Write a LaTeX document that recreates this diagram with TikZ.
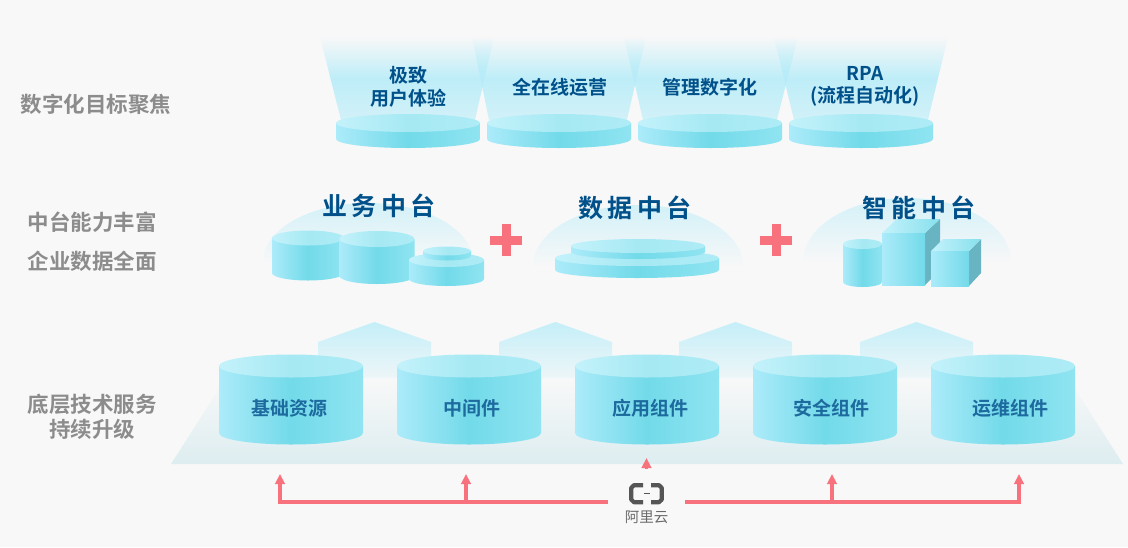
\documentclass[tikz,border=0pt]{standalone}
\usepackage{fontspec}
\setmainfont{Noto Sans CJK SC}[BoldFont={Noto Sans CJK SC Bold}]
\usetikzlibrary{fadings,arrows.meta}
\definecolor{bgc}{HTML}{F8F8F8}
\definecolor{beamc}{HTML}{B4ECF9}
\definecolor{bodyl}{HTML}{ACEBFA}
\definecolor{bodym}{HTML}{72DAE9}
\definecolor{bodyr}{HTML}{90E4F1}
\definecolor{topl}{HTML}{C4F2FB}
\definecolor{topm}{HTML}{A6E9F3}
\definecolor{topr}{HTML}{AEECF6}
\definecolor{navy}{HTML}{00508A}
\definecolor{labelc}{HTML}{1C6A9E}
\definecolor{greyt}{HTML}{8C8C8C}
\definecolor{redc}{HTML}{F8727E}
\definecolor{sidec}{HTML}{68B4C2}
\definecolor{logoc}{HTML}{555555}
\definecolor{planec}{HTML}{DDEDF0}
\tikzfading[name=beamfade,top color=transparent!100,bottom color=transparent!45,middle color=transparent!15]
\tikzfading[name=domefade,top color=transparent!45,bottom color=transparent!100]
\tikzfading[name=housefade,top color=transparent!25,bottom color=transparent!85]
\tikzset{
  x=1pt,y=-1pt,
  cylbody/.style={left color=bodyl,right color=bodyr,middle color=bodym,draw=none},
  cyltop/.style={left color=topl,right color=topr,middle color=topm,draw=none},
  beam/.style={fill=beamc,path fading=beamfade,draw=none},
  dome/.style={fill=beamc,path fading=domefade,draw=none},
  house/.style={fill=beamc,path fading=housefade,draw=none},
  toptext/.style={font=\fontsize{19}{21}\selectfont\bfseries,text=navy,inner sep=0pt},
  cyltext/.style={font=\fontsize{19}{21}\selectfont\bfseries,text=labelc,inner sep=0pt},
  sidetext/.style={font=\fontsize{21.5}{24}\selectfont\bfseries,text=greyt,inner sep=0pt},
  titletext/.style={font=\fontsize{25}{27}\selectfont\bfseries\addfontfeature{LetterSpace=17},text=navy,inner sep=0pt},
  flow/.style={draw=redc,line width=3.2pt},
  flowup/.style={draw=redc,line width=3.2pt,-{Triangle[length=10pt,width=9.5pt]}},
  boxfront/.style={left color=bodyl,right color=bodym,draw=none},
  boxtop/.style={left color=topl,right color=bodym!60!topm,draw=none},
}
% centre x, top y, bottom y, rx, ry
\newcommand{\cylinder}[5]{%
  \shade[cylbody] ({#1-#4},#2) -- ({#1-#4},#3) arc[start angle=180,end angle=360,x radius=#4,y radius=-#5] -- ({#1+#4},#2) -- cycle;
  \shade[cyltop] (#1,#2) ellipse[x radius=#4,y radius=#5];
}
\begin{document}
\begin{tikzpicture}
\useasboundingbox (0,0) rectangle (1128,547);
\fill[bgc] (0,0) rectangle (1128,547);

% beams
\fill[beam] (320,37) -- (494,37) -- (475,120) -- (341,120) -- cycle;
\fill[beam] (472,37) -- (646,37) -- (627,120) -- (489,120) -- cycle;
\fill[beam] (624,37) -- (798,37) -- (777,120) -- (643,120) -- cycle;
\fill[beam] (774,37) -- (948,37) -- (928,120) -- (794,120) -- cycle;

% top discs
\cylinder{408}{123}{139}{72}{9}
\cylinder{559}{123}{139}{72}{9}
\cylinder{710}{123}{139}{72}{9}
\cylinder{861}{123}{139}{72}{9}

% domes
\fill[dome] (263,262) arc[start angle=180,end angle=360,x radius=105,y radius=59] -- cycle;
\fill[dome] (533,266) arc[start angle=180,end angle=360,x radius=105,y radius=61] -- cycle;
\fill[dome] (803,262) arc[start angle=180,end angle=360,x radius=104,y radius=64] -- cycle;

% business cylinders
\cylinder{308}{238}{273}{36}{7.5}
\cylinder{377}{239}{276}{37.5}{8}
\cylinder{446.5}{260}{279}{37.5}{7}
\cylinder{447}{251}{256}{24}{4.5}

% data discs
\cylinder{637}{258}{270}{82}{8}
\cylinder{638}{246}{252}{67}{7}

% intelligent shapes
\cylinder{862.5}{244}{282}{19.5}{5}
\fill[sidec] (925,233) -- (940,219) -- (940,270) -- (925,285) -- cycle;
\shade[boxtop] (882,233) -- (925,233) -- (940,219) -- (897,219) -- cycle;
\shade[boxfront] (882,233) rectangle (925,285);
\fill[sidec] (969,251) -- (981,239) -- (981,273) -- (969,286) -- cycle;
\shade[boxtop] (931,251) -- (969,251) -- (981,239) -- (943,239) -- cycle;
\shade[boxfront] (931,251) rectangle (969,286);

% base plane
\shade[top color=bgc,bottom color=planec,draw=none] (226,378) -- (1068,378) -- (1123,464) -- (171,464) -- cycle;

% houses
\fill[house] (318,378) -- (318,342) -- (374.5,322) -- (431,342) -- (431,378) -- cycle;
\fill[house] (499,378) -- (499,342) -- (555.5,322) -- (612,342) -- (612,378) -- cycle;
\fill[house] (679,378) -- (679,342) -- (735.5,322) -- (792,342) -- (792,378) -- cycle;
\fill[house] (860,378) -- (860,342) -- (916.5,322) -- (973,342) -- (973,378) -- cycle;

% base cylinders
\cylinder{291}{366}{433}{72}{11.5}
\cylinder{469}{366}{433}{72}{11.5}
\cylinder{647}{366}{433}{72}{11.5}
\cylinder{825}{366}{433}{72}{11.5}
\cylinder{1003}{366}{433}{72}{11.5}

% plus signs
\fill[redc] (501.5,224) rectangle (510.5,256);
\fill[redc] (490,235.5) rectangle (522,244.5);
\fill[redc] (771.5,224) rectangle (780.5,256);
\fill[redc] (760,235.5) rectangle (792,244.5);

% texts
\node[sidetext] (s1) at (96,104) {数字化目标聚焦};
\node[sidetext] (s2) at (92,222) {中台能力丰富};
\node[sidetext] (s3) at (92,261) {企业数据全面};
\node[sidetext] (s4) at (92,404) {底层技术服务};
\node[sidetext] (s5) at (92,429) {持续升级};

\node[toptext] (t1a) at (408,75) {极致};
\node[toptext] (t1b) at (408,98) {用户体验};
\node[toptext] (t2) at (559.5,87) {全在线运营};
\node[toptext] (t3) at (710,87) {管理数字化};
\node[toptext] (t4a) at (865,73) {RPA};
\node[toptext] (t4b) at (865,96) {(流程自动化)};

\node[titletext] (m1) at (379,206) {业务中台};
\node[titletext] (m2) at (635,208) {数据中台};
\node[titletext] (m3) at (919,208) {智能中台};

\node[cyltext] (c1) at (289.5,408) {基础资源};
\node[cyltext] (c2) at (471.5,408) {中间件};
\node[cyltext] (c3) at (650.5,408) {应用组件};
\node[cyltext] (c4) at (831.5,408) {安全组件};
\node[cyltext] (c5) at (1010,408) {运维组件};

% logo
\node[inner sep=0pt,minimum width=77pt,minimum height=24pt] (logo) at (646.5,502) {};
\node[inner sep=0pt,text=greyt!75!black,font=\fontsize{14.5}{16}\selectfont] (logotext) at (646.5,517) {阿里云};
\draw[logoc,line width=4.2pt,line join=round] (643,485.2) -- (634,485.2) -- (631.2,488) -- (631.2,499.5) -- (634,502.2) -- (643,502.2);
\draw[logoc,line width=4.2pt,line join=round] (651,485.2) -- (659,485.2) -- (661.8,488) -- (661.8,499.5) -- (659,502.2) -- (651,502.2);
\draw[logoc,line width=1pt] (644,493.5) -- (650,493.5);

% connectors
\coordinate (a1) at (280,474);
\coordinate (a2) at (466,474);
\coordinate (a3) at (832,474);
\coordinate (a4) at (1019,474);
\coordinate (a0) at (646.5,458);
\coordinate (a0s) at (646.5,469);
\draw[flowup] (logo.west) -- (a1 |- logo.west) -- (a1);
\draw[flowup] (a2 |- logo.west) -- (a2);
\draw[flowup] (logo.east) -- (a4 |- logo.east) -- (a4);
\draw[flowup] (a3 |- logo.east) -- (a3);
\draw[flowup] (a0s) -- (a0);
\end{tikzpicture}
\end{document}
